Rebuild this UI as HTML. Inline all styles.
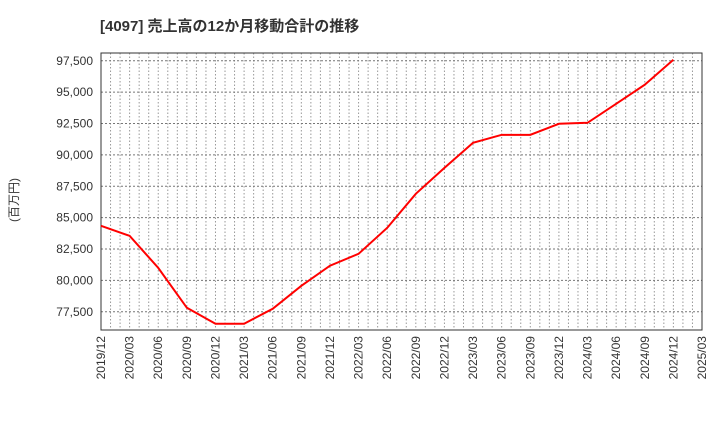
<!DOCTYPE html>
<html><head><meta charset="utf-8"><style>body{margin:0;background:#fff}svg{display:block}</style></head>
<body>
<svg id="c" width="720" height="440" xmlns="http://www.w3.org/2000/svg" font-family="Liberation Sans, Noto Sans CJK JP, sans-serif">
<text x="100" y="31" font-size="15" font-weight="bold" fill="#333">[4097]  売上高の12か月移動合計の推移</text>
<text transform="translate(18,200) rotate(-90)" font-size="12" fill="#333" text-anchor="middle">(百万円)</text>
<g id="grid"></g><g id="axes"></g><g id="series"></g>
</svg>
<script>
const xLabels=["2019/12","2020/03","2020/06","2020/09","2020/12","2021/03","2021/06","2021/09","2021/12","2022/03","2022/06","2022/09","2022/12","2023/03","2023/06","2023/09","2023/12","2024/03","2024/06","2024/09","2024/12","2025/03"];
const yTicks=[77500,80000,82500,85000,87500,90000,92500,95000,97500];
const values=[84350,83550,81000,77820,76550,76550,77740,79570,81170,82120,84190,86900,88970,90970,91600,91600,92480,92560,94070,95590,97580];
const L=101,R=702,T=53,B=330,yMin=76050,yMax=98120;
const ns="http://www.w3.org/2000/svg";
const X=i=>L+(R-L)*i/(xLabels.length-1);
const Y=v=>B-(v-yMin)/(yMax-yMin)*(B-T);
function mk(p,t,a){const e=document.createElementNS(ns,t);for(const k in a)e.setAttribute(k,a[k]);p.appendChild(e);return e;}
const g=document.getElementById('grid'),ax=document.getElementById('axes'),s=document.getElementById('series');
for(let m=1;m<(xLabels.length-1)*3;m++){const x=L+(R-L)*m/((xLabels.length-1)*3);
const l=mk(g,'line',{x1:x,x2:x,y1:T,y2:B,stroke:'#999','stroke-dasharray':'1.5,2','stroke-width':1});
}
yTicks.forEach(v=>{const y=Y(v);
const l=mk(g,'line',{x1:L,x2:R,y1:y,y2:y,stroke:'#777','stroke-dasharray':'2,2','stroke-width':1});

const t=mk(ax,'text',{x:L-8,y:y+4,'font-size':12,'text-anchor':'end',fill:'#333'});t.textContent=v.toLocaleString('en-US');
});
xLabels.forEach((lb,i)=>{const x=X(i);
const t=mk(ax,'text',{transform:`translate(${x+4},${B+6}) rotate(-90)`,'font-size':12,'text-anchor':'end',fill:'#333'});t.textContent=lb;
});
const f=mk(ax,'rect',{x:L,y:T,width:R-L,height:B-T,fill:'none',stroke:'#333','stroke-width':1});

const p=mk(s,'polyline',{points:values.map((v,i)=>X(i)+','+Y(v)).join(' '),fill:'none',stroke:'#f00','stroke-width':2});

</script>
</body></html>
